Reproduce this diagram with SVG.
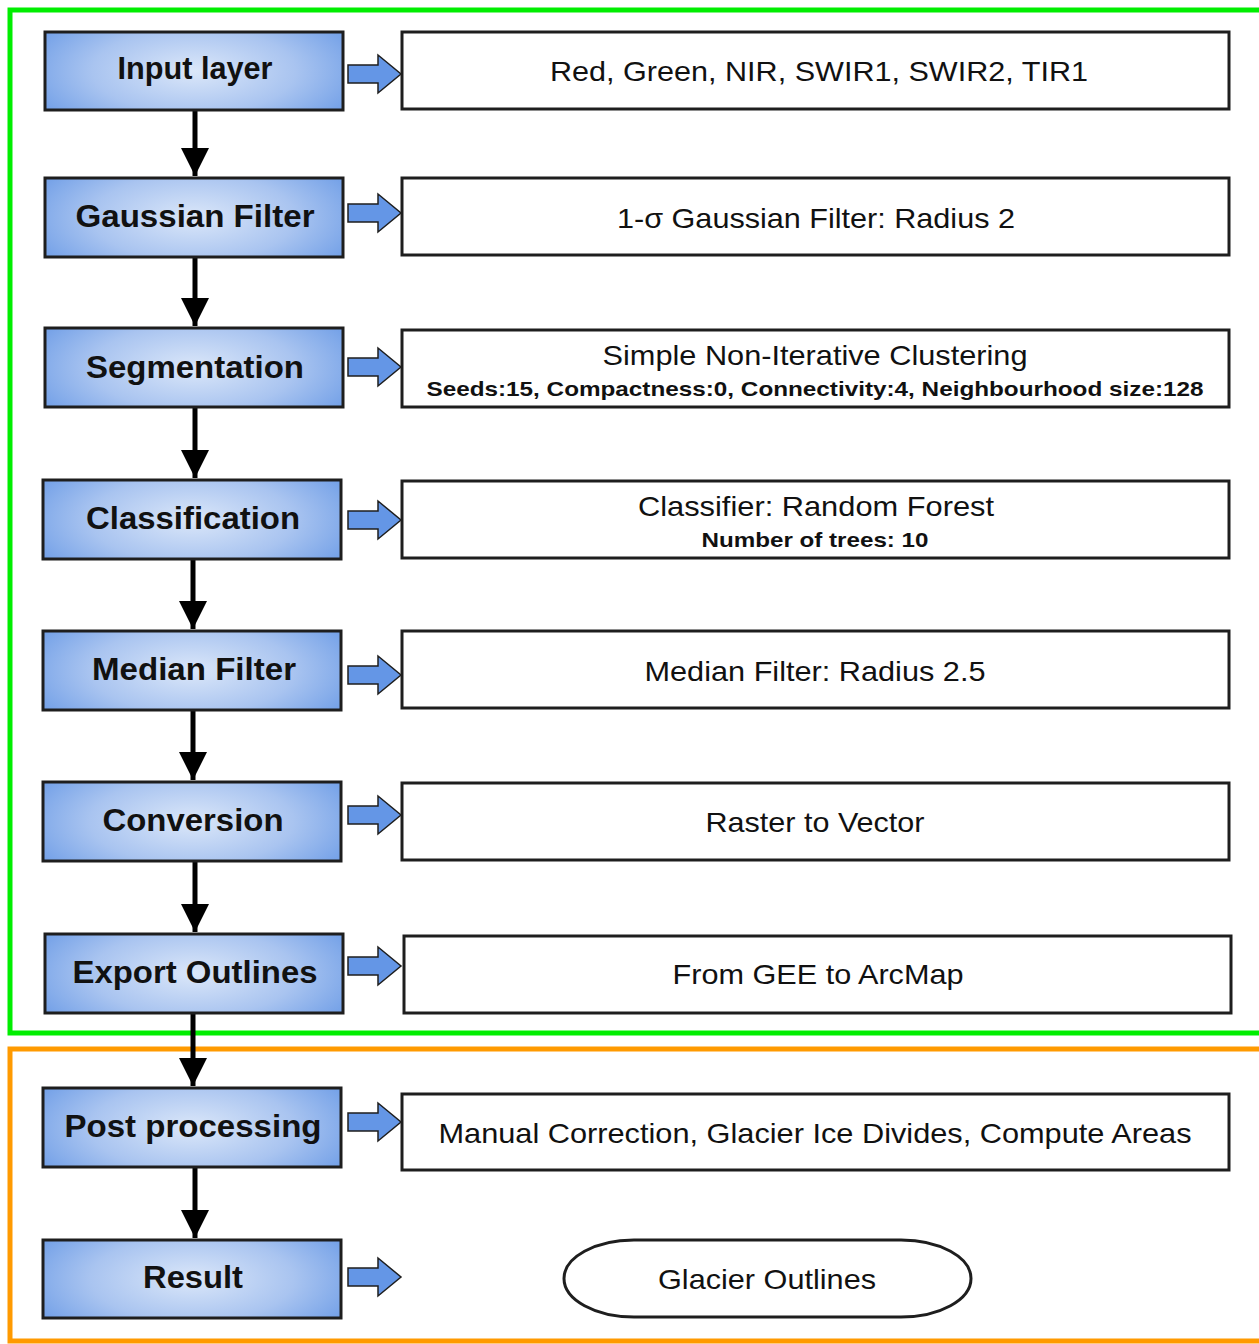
<svg xmlns="http://www.w3.org/2000/svg" width="1259" height="1344" viewBox="0 0 1259 1344">
<defs>
<radialGradient id="g" cx="0.5" cy="0.5" r="0.62" gradientTransform="translate(0.5,0.5) scale(1,1.6) translate(-0.5,-0.5)">
<stop offset="0" stop-color="#dbe7f9"/>
<stop offset="0.55" stop-color="#a9c4f0"/>
<stop offset="1" stop-color="#6b9be6"/>
</radialGradient>
<marker id="ah" viewBox="0 0 10 10" refX="10" refY="5" markerWidth="5.6" markerHeight="6.6" markerUnits="strokeWidth" orient="auto">
<path d="M0,0 L10,5 L0,10 z" fill="#000"/>
</marker>
<path id="barrow" d="M0,-9 h30 v-10 l23,19 l-23,19 v-10 h-30 z"/>
</defs>
<style>
.step{fill:url(#g);stroke:#1e1e1e;stroke-width:3}
.box{fill:#fff;stroke:#1e1e1e;stroke-width:3}
.lbl{font-family:"Liberation Sans",Arial,sans-serif;font-weight:bold;font-size:32px;fill:#111;text-anchor:middle;dominant-baseline:central}
.txt{font-family:"Liberation Sans",Arial,sans-serif;font-size:28px;fill:#111;text-anchor:middle;dominant-baseline:central}
.sub{font-family:"Liberation Sans",Arial,sans-serif;font-weight:bold;font-size:21px;fill:#111;text-anchor:middle;dominant-baseline:central}
.ba{fill:#6496e6;stroke:#1e1e1e;stroke-width:1.5}
.va{stroke:#000;stroke-width:5;fill:none;marker-end:url(#ah)}
</style>
<rect width="1259" height="1344" fill="#fff"/>
<g id="frames">
<path d="M1262,10 H10 V1033 H1262" fill="none" stroke="#00ee00" stroke-width="5"/>
<path d="M1262,1049 H10 V1341 H1262" fill="none" stroke="#ff9a00" stroke-width="5"/>
</g>
<g id="connectors">
<line class="va" x1="195" y1="111" x2="195" y2="176"/>
<line class="va" x1="195" y1="258" x2="195" y2="326"/>
<line class="va" x1="195" y1="408" x2="195" y2="478"/>
<line class="va" x1="193" y1="560" x2="193" y2="629"/>
<line class="va" x1="193" y1="711" x2="193" y2="780"/>
<line class="va" x1="195" y1="862" x2="195" y2="932"/>
<line class="va" x1="193" y1="1014" x2="193" y2="1086"/>
<line class="va" x1="195" y1="1168" x2="195" y2="1238"/>
<use href="#barrow" class="ba" x="348" y="74"/>
<use href="#barrow" class="ba" x="348" y="213"/>
<use href="#barrow" class="ba" x="348" y="367"/>
<use href="#barrow" class="ba" x="348" y="520"/>
<use href="#barrow" class="ba" x="348" y="675"/>
<use href="#barrow" class="ba" x="348" y="815"/>
<use href="#barrow" class="ba" x="348" y="966"/>
<use href="#barrow" class="ba" x="348" y="1122"/>
<use href="#barrow" class="ba" x="348" y="1277"/>
</g>
<g id="n-input"><rect class="step" x="45" y="32" width="298" height="78"/><text class="lbl" x="195" y="68" textLength="155" lengthAdjust="spacingAndGlyphs" font-size="30">Input layer</text></g>
<g id="n-gauss"><rect class="step" x="45" y="178" width="298" height="79"/><text class="lbl" x="195" y="216" textLength="239" lengthAdjust="spacingAndGlyphs">Gaussian Filter</text></g>
<g id="n-seg"><rect class="step" x="45" y="328" width="298" height="79"/><text class="lbl" x="195" y="367" textLength="218" lengthAdjust="spacingAndGlyphs">Segmentation</text></g>
<g id="n-class"><rect class="step" x="43" y="480" width="298" height="79"/><text class="lbl" x="193" y="518" textLength="214" lengthAdjust="spacingAndGlyphs">Classification</text></g>
<g id="n-median"><rect class="step" x="43" y="631" width="298" height="79"/><text class="lbl" x="194" y="669" textLength="204" lengthAdjust="spacingAndGlyphs">Median Filter</text></g>
<g id="n-conv"><rect class="step" x="43" y="782" width="298" height="79"/><text class="lbl" x="193" y="820" textLength="181" lengthAdjust="spacingAndGlyphs">Conversion</text></g>
<g id="n-export"><rect class="step" x="45" y="934" width="298" height="79"/><text class="lbl" x="195" y="972" textLength="245" lengthAdjust="spacingAndGlyphs">Export Outlines</text></g>
<g id="n-post"><rect class="step" x="43" y="1088" width="298" height="79"/><text class="lbl" x="193" y="1126" textLength="257" lengthAdjust="spacingAndGlyphs">Post processing</text></g>
<g id="n-result"><rect class="step" x="43" y="1240" width="298" height="78"/><text class="lbl" x="193" y="1277" textLength="100" lengthAdjust="spacingAndGlyphs">Result</text></g>
<g id="d-input"><rect class="box" x="402" y="32" width="827" height="77"/><text class="txt" x="819" y="71" textLength="538" lengthAdjust="spacingAndGlyphs">Red, Green, NIR, SWIR1, SWIR2, TIR1</text></g>
<g id="d-gauss"><rect class="box" x="402" y="178" width="827" height="77"/><text class="txt" x="816" y="218" textLength="398" lengthAdjust="spacingAndGlyphs">1-σ Gaussian Filter: Radius 2</text></g>
<g id="d-seg"><rect class="box" x="402" y="330" width="827" height="77"/><text class="txt" x="815" y="355" textLength="425" lengthAdjust="spacingAndGlyphs">Simple Non-Iterative Clustering</text><text class="sub" x="815" y="388" textLength="777" lengthAdjust="spacingAndGlyphs">Seeds:15, Compactness:0, Connectivity:4, Neighbourhood size:128</text></g>
<g id="d-class"><rect class="box" x="402" y="481" width="827" height="77"/><text class="txt" x="816" y="506" textLength="356" lengthAdjust="spacingAndGlyphs">Classifier: Random Forest</text><text class="sub" x="815" y="539" textLength="227" lengthAdjust="spacingAndGlyphs">Number of trees: 10</text></g>
<g id="d-median"><rect class="box" x="402" y="631" width="827" height="77"/><text class="txt" x="815" y="671" textLength="341" lengthAdjust="spacingAndGlyphs">Median Filter: Radius 2.5</text></g>
<g id="d-conv"><rect class="box" x="402" y="783" width="827" height="77"/><text class="txt" x="815" y="822" textLength="219" lengthAdjust="spacingAndGlyphs">Raster to Vector</text></g>
<g id="d-export"><rect class="box" x="404" y="936" width="827" height="77"/><text class="txt" x="818" y="974" textLength="291" lengthAdjust="spacingAndGlyphs">From GEE to ArcMap</text></g>
<g id="d-post"><rect class="box" x="402" y="1094" width="827" height="76"/><text class="txt" x="815" y="1133" textLength="753" lengthAdjust="spacingAndGlyphs">Manual Correction, Glacier Ice Divides, Compute Areas</text></g>
<g id="d-result"><rect class="box" x="564" y="1240" width="407" height="77" rx="70" ry="38.5"/><text class="txt" x="767" y="1279" textLength="218" lengthAdjust="spacingAndGlyphs">Glacier Outlines</text></g>
</svg>
